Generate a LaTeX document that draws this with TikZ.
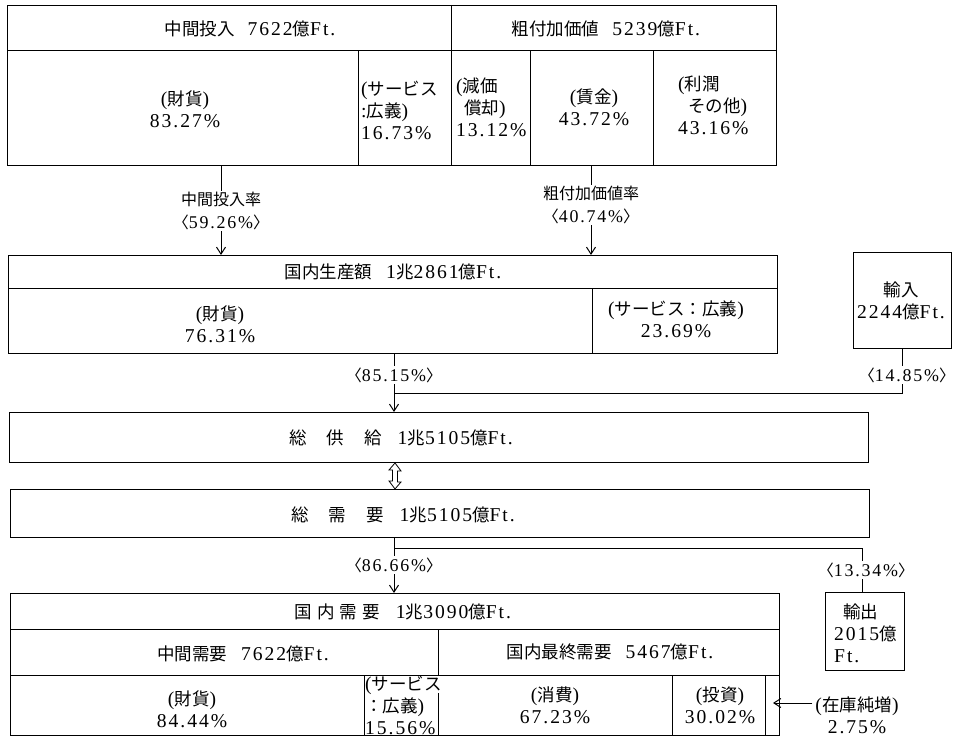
\documentclass[tikz,border=0pt]{standalone}
\usepackage{fontspec}
\setmainfont{Liberation Serif}[Scale=1.12,LetterSpace=10]
\newfontfamily\jp{Noto Sans CJK JP}
\usetikzlibrary{arrows.meta}
\newcommand{\J}[1]{{\jp #1}}
\begin{document}
\begin{tikzpicture}[x=1pt,y=-1pt,
  box/.style={draw, line width=1pt, inner sep=0pt, anchor=north west},
  rule/.style={line width=1pt},
  txt/.style={inner sep=0pt, align=center, font=\fontsize{17.5}{22}\selectfont},
  lbl/.style={inner sep=1.5pt, align=center, fill=white, font=\fontsize{16}{23}\selectfont},
  arr/.style={line width=1pt, -{Straight Barb[length=7pt,width=9pt]}},
  conn/.style={line width=1pt}
]
\useasboundingbox (0,0) rectangle (954,738);
\fill[white] (0,0) rectangle (954,738);

% ---- boxes
\node[box, minimum width=769pt, minimum height=160pt] (T) at (7,5) {};
\node[box, minimum width=769pt, minimum height=98pt] (P) at (8,255) {};
\node[box, minimum width=98pt, minimum height=96pt] (M) at (853,252) {};
\node[box, minimum width=859pt, minimum height=50pt] (S) at (9,412) {};
\node[box, minimum width=859pt, minimum height=48pt] (D) at (10,489) {};
\node[box, minimum width=769pt, minimum height=142pt] (B) at (10,593) {};
\node[box, minimum width=79pt, minimum height=78pt] (E) at (825,592) {};

% ---- internal rules
\draw[rule] (7,51) -- (776,51);
\draw[rule] (451,5) -- (451,165);
\draw[rule] (358,51) -- (358,165);
\draw[rule] (530,51) -- (530,165);
\draw[rule] (653,51) -- (653,165);

\draw[rule] (8,289) -- (777,289);
\draw[rule] (592,289) -- (592,353);

\draw[rule] (10,629) -- (779,629);
\draw[rule] (10,675) -- (779,675);
\draw[rule] (438,629) -- (438,675);
\draw[rule] (438,693) -- (438,735);
\draw[rule] (364,675) -- (364,735);
\draw[rule] (672,675) -- (672,735);
\draw[rule] (765,675) -- (765,735);

% ---- texts in top block
\node[txt] (t1) at (250,29) {\J{中間投入}\hspace{13pt}7622\J{億}Ft.};
\node[txt] (t2) at (606,29) {\J{粗付加価値}\hspace{13pt}5239\J{億}Ft.};
\node[txt] (t3) at (185,109) {(\J{財貨})\\83.27\%};
\node[txt, align=left, anchor=west] (t4) at (361,110) {(\J{サービス}\\:\J{広義})\\16.73\%};
\node[txt, align=left, anchor=west] (t5) at (456,107) {(\J{減価}\\\hspace*{8pt}\J{償却})\\13.12\%};
\node[txt] (t6) at (594,107) {(\J{賃金})\\43.72\%};
\node[txt, align=left, anchor=west] (t7) at (678,105) {(\J{利潤}\\\hspace*{10pt}\J{その他})\\43.16\%};

% ---- production block
\node[txt] (p1) at (393,272) {\J{国内生産額}\hspace{14pt}1\J{兆}2861\J{億}Ft.};
\node[txt] (p2) at (220,324) {(\J{財貨})\\76.31\%};
\node[txt] (p3) at (676,319) {(\J{サービス：広義})\\23.69\%};
\node[txt] (m1) at (901,301) {\J{輸入}\\2244\J{億}Ft.};

% ---- supply / demand
\node[txt] (s1) at (401,438) {\J{総}\hspace{20pt}\J{供}\hspace{20pt}\J{給}\hspace{16pt}1\J{兆}5105\J{億}Ft.};
\node[txt] (d1) at (403,515) {\J{総}\hspace{20pt}\J{需}\hspace{20pt}\J{要}\hspace{16pt}1\J{兆}5105\J{億}Ft.};

% ---- domestic demand block
\node[txt] (b1) at (403,612) {\J{国}\hspace{5pt}\J{内}\hspace{5pt}\J{需}\hspace{5pt}\J{要}\hspace{16pt}1\J{兆}3090\J{億}Ft.};
\node[txt] (b2) at (243,654) {\J{中間需要}\hspace{14pt}7622\J{億}Ft.};
\node[txt] (b3) at (610,652) {\J{国内最終需要}\hspace{14pt}5467\J{億}Ft.};
\node[txt] (b4) at (192,709) {(\J{財貨})\\84.44\%};
\node[txt, align=left, anchor=west] (b5) at (365,705) {(\J{サービス}\\\J{：広義})\\15.56\%};
\node[txt] (b6) at (555,705) {(\J{消費})\\67.23\%};
\node[txt] (b7) at (720,705) {(\J{投資})\\30.02\%};
\node[txt, align=left, anchor=west] (e1) at (834,633) {\hspace*{9pt}\J{輸出}\\2015\J{億}\\Ft.};
\node[txt] (inv) at (857,715) {(\J{在庫純増})\\2.75\%};

% ---- connectors
\coordinate (a1) at (221,0);
\coordinate (a2) at (591,0);
\coordinate (cx) at (394,0);
\coordinate (dx) at (395,0);
\coordinate (mx) at (902,0);
\coordinate (ex) at (862,0);
\coordinate (j1) at (394,393);
\coordinate (j2) at (394,548);
\coordinate (cell) at (773,703);

\draw[arr] (a1 |- T.south) -- (a1 |- P.north);
\draw[arr] (a2 |- T.south) -- (a2 |- P.north);
\draw[conn] (mx |- M.south) -- (mx |- j1) -- (j1);
\draw[arr] (cx |- P.south) -- (cx |- S.north);
\draw[line width=0.8pt] (dx |- S.south) -- ++(6,8) -- ++(-3.5,0) -- ++(0,11) -- ++(3.5,0)
   -- (dx |- D.north) -- ++(-6,-8) -- ++(3.5,0) -- ++(0,-11) -- ++(-3.5,0) -- cycle;
\draw[arr] (cx |- D.south) -- (cx |- B.north);
\draw[conn] (j2) -- (ex |- j2) -- (ex |- E.north);
\draw[arr] ([xshift=-3pt]inv.west |- cell) -- (cell);

% ---- connector labels
\node[lbl] (l1) at (221,211) {\J{中間投入率}\\\J{〈}59.26\%\J{〉}};
\node[lbl] (l2) at (591,205) {\J{粗付加価値率}\\\J{〈}40.74\%\J{〉}};
\node[lbl] (l3) at (394,375) {\J{〈}85.15\%\J{〉}};
\node[lbl] (l4) at (907,375) {\J{〈}14.85\%\J{〉}};
\node[lbl] (l5) at (394,565) {\J{〈}86.66\%\J{〉}};
\node[lbl] (l6) at (866,570) {\J{〈}13.34\%\J{〉}};
\end{tikzpicture}
\end{document}
